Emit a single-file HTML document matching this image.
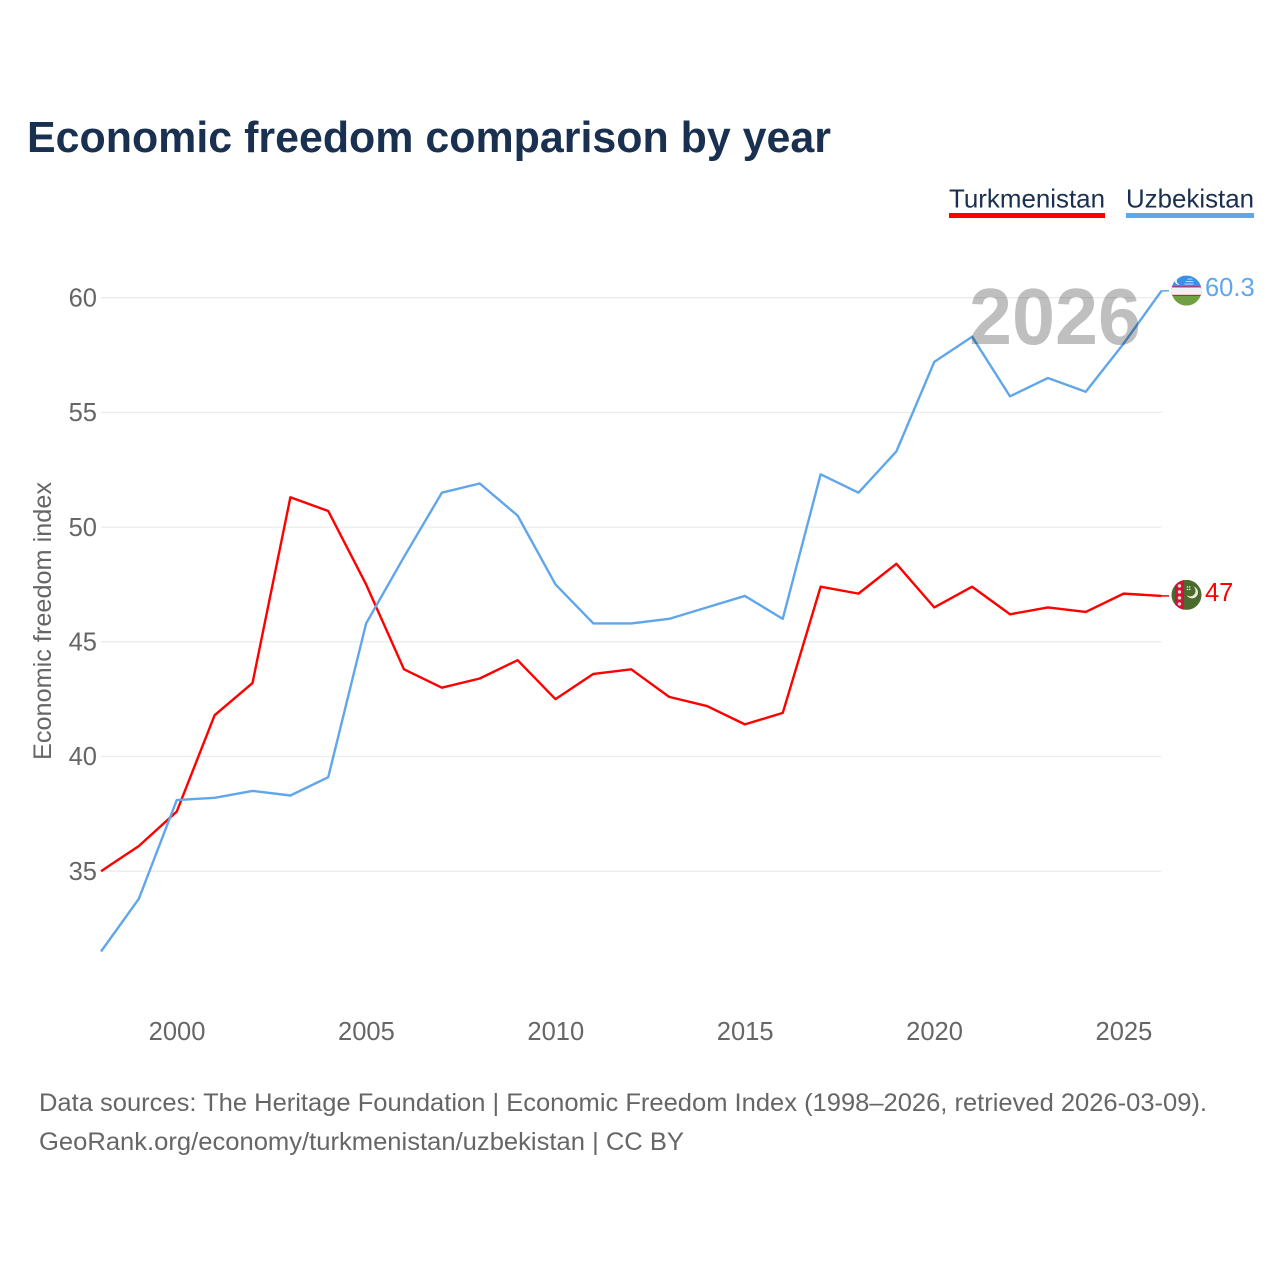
<!DOCTYPE html>
<html lang="en">
<head>
<meta charset="utf-8">
<title>Economic freedom comparison by year</title>
<style>
html,body{margin:0;padding:0;background:#fff;}
svg{display:block;font-family:"Liberation Sans",sans-serif;}
</style>
</head>
<body>
<svg id="chart" xmlns="http://www.w3.org/2000/svg" width="1280" height="1280" viewBox="0 0 1280 1280">
  <rect width="1280" height="1280" fill="#ffffff"/>
  <text x="27" y="152" font-size="44" font-weight="700" fill="#1a3050" textLength="804" lengthAdjust="spacingAndGlyphs">Economic freedom comparison by year</text>

  <g>
    <text x="949" y="207.5" font-size="26" fill="#1a3050" textLength="156" lengthAdjust="spacingAndGlyphs">Turkmenistan</text>
    <rect x="949" y="213" width="156" height="5" fill="#ff0000"/>
  </g>
  <g>
    <text x="1126" y="207.5" font-size="26" fill="#1a3050" textLength="128" lengthAdjust="spacingAndGlyphs">Uzbekistan</text>
    <rect x="1126" y="213" width="128" height="5" fill="#60a6ea"/>
  </g>

  <g id="grid"></g>
  <g id="yticks"></g>
  <g id="xticks"></g>
  <text transform="translate(51,760) rotate(-90)" font-size="25" fill="#666666" textLength="278" lengthAdjust="spacingAndGlyphs">Economic freedom index</text>
  <g id="series"></g>

  <text x="969" y="344" font-size="80" font-weight="700" fill="#000000" fill-opacity="0.25" textLength="172" lengthAdjust="spacingAndGlyphs">2026</text>

  <defs>
    <clipPath id="flag-clip"><circle cx="0" cy="0" r="15"/></clipPath>
  </defs>

  <g id="flag-uz">
    <g clip-path="url(#flag-clip)">
      <rect x="-15" y="-15" width="30" height="30" fill="#6fa044"/>
      <rect x="-15" y="-15" width="30" height="11" fill="#3b8fe8"/>
      <rect x="-15" y="-4.2" width="30" height="9.4" fill="#d8102e"/>
      <rect x="-15" y="-3.2" width="30" height="7.4" fill="#f3f1f3"/>
      <circle cx="-8" cy="-9.5" r="3.6" fill="#ffffff"/>
      <circle cx="-6.6" cy="-9.5" r="3.2" fill="#3b8fe8"/>
      <g fill="#cfe4fb">
        <rect x="-2" y="-7" width="9" height="0.9"/>
        <rect x="-1" y="-9.5" width="8" height="0.9"/>
        <rect x="1" y="-12" width="5" height="0.9"/>
      </g>
    </g>
  </g>

  <g id="flag-tm">
    <g clip-path="url(#flag-clip)">
      <rect x="-15" y="-15" width="30" height="30" fill="#4a6b2c"/>
      <rect x="-11.5" y="-15" width="9" height="30" fill="#d3123a"/>
      <g fill="#e8e0d0">
        <circle cx="-7" cy="-9" r="1.7"/>
        <circle cx="-7" cy="-3" r="1.7"/>
        <circle cx="-7" cy="3" r="1.7"/>
        <circle cx="-7" cy="9" r="1.7"/>
      </g>
      <circle cx="5.5" cy="-2.5" r="6" fill="#e8e8dc"/>
      <circle cx="3.6" cy="-4" r="5.4" fill="#4a6b2c"/>
      <g fill="#e8e8dc">
        <circle cx="1" cy="-8" r="0.8"/>
        <circle cx="3.2" cy="-8" r="0.8"/>
        <circle cx="1" cy="-5.5" r="0.8"/>
        <circle cx="3.2" cy="-5.5" r="0.8"/>
      </g>
    </g>
  </g>

  <text x="39" y="1111" font-size="25" fill="#666666" textLength="1168" lengthAdjust="spacingAndGlyphs">Data sources: The Heritage Foundation | Economic Freedom Index (1998–2026, retrieved 2026-03-09).</text>
  <text x="39" y="1150" font-size="25" fill="#666666" textLength="645" lengthAdjust="spacingAndGlyphs">GeoRank.org/economy/turkmenistan/uzbekistan | CC BY</text>
</svg>
<script>
const years = [1998,1999,2000,2001,2002,2003,2004,2005,2006,2007,2008,2009,2010,2011,2012,2013,2014,2015,2016,2017,2018,2019,2020,2021,2022,2023,2024,2025,2026];
const turkmenistan = [35,36.1,37.6,41.8,43.2,51.3,50.7,47.5,43.8,43,43.4,44.2,42.5,43.6,43.8,42.6,42.2,41.4,41.9,47.4,47.1,48.4,46.5,47.4,46.2,46.5,46.3,47.1,47];
const uzbekistan = [31.5,33.8,38.1,38.2,38.5,38.3,39.1,45.8,48.7,51.5,51.9,50.5,47.5,45.8,45.8,46,46.5,47,46,52.3,51.5,53.3,57.2,58.3,55.7,56.5,55.9,58,60.3];
const yTickValues = [35,40,45,50,55,60];
const xTickValues = [2000,2005,2010,2015,2020,2025];

const SVG_NS = 'http://www.w3.org/2000/svg';
const RED = '#ff0000';
const BLUE = '#60a6ea';

function xScale(year) {
  return 101 + (year - 1998) * (1161.5 - 101) / (2026 - 1998);
}
function yScale(value) {
  return 871.2 - (value - 35) * (871.2 - 297.7) / (60 - 35);
}
function make(tag, attrs) {
  const el = document.createElementNS(SVG_NS, tag);
  for (const k in attrs) el.setAttribute(k, attrs[k]);
  return el;
}

const grid = document.getElementById('grid');
const yticks = document.getElementById('yticks');
const xticks = document.getElementById('xticks');
const series = document.getElementById('series');

yTickValues.forEach(function (v) {
  const line = make('line', {x1: xScale(1998), x2: xScale(2026), y1: yScale(v), y2: yScale(v), stroke: '#ececec', 'stroke-width': 1.3});
  
  
  grid.appendChild(line);

  const t = make('text', {x: 97, y: yScale(v) + 8.7, 'text-anchor': 'end', 'font-size': 25.5, fill: '#666666'});
  t.textContent = String(v);
  
  
  yticks.appendChild(t);
});

xTickValues.forEach(function (v) {
  const t = make('text', {x: xScale(v) + 0.3, y: 1040, 'text-anchor': 'middle', 'font-size': 25.5, fill: '#666666'});
  t.textContent = String(v);
  
  
  xticks.appendChild(t);
});

function pathFor(values) {
  return values.map(function (v, i) {
    return (i ? 'L' : 'M') + xScale(years[i]).toFixed(2) + ' ' + yScale(v).toFixed(2);
  }).join(' ');
}

const lastYear = years[years.length - 1];
const lastTm = turkmenistan[turkmenistan.length - 1];
const lastUz = uzbekistan[uzbekistan.length - 1];

const tmLine = make('path', {d: pathFor(turkmenistan), fill: 'none', stroke: RED, 'stroke-width': 2.4, 'stroke-linejoin': 'round'});


series.appendChild(tmLine);

const uzLine = make('path', {d: pathFor(uzbekistan), fill: 'none', stroke: BLUE, 'stroke-width': 2.4, 'stroke-linejoin': 'round'});


series.appendChild(uzLine);

const tmConn = make('line', {x1: xScale(lastYear), x2: 1169, y1: yScale(lastTm), y2: yScale(lastTm), stroke: RED, 'stroke-width': 1.5});


series.appendChild(tmConn);

const uzConn = make('line', {x1: xScale(lastYear), x2: 1169, y1: yScale(lastUz), y2: yScale(lastUz), stroke: BLUE, 'stroke-width': 1.5});


series.appendChild(uzConn);

document.getElementById('flag-tm').setAttribute('transform', 'translate(1186.5,' + (yScale(lastTm) - 1) + ')');
document.getElementById('flag-uz').setAttribute('transform', 'translate(1186.5,' + (yScale(lastUz) - 0.2) + ')');

const tmLabel = make('text', {x: 1205, y: yScale(lastTm) + 5, 'font-size': 25.5, fill: RED});
tmLabel.textContent = String(lastTm);


document.getElementById('chart').appendChild(tmLabel);

const uzLabel = make('text', {x: 1205, y: yScale(lastUz) + 5, 'font-size': 25.5, fill: BLUE});
uzLabel.textContent = String(lastUz);


document.getElementById('chart').appendChild(uzLabel);
</script>
</body>
</html>
